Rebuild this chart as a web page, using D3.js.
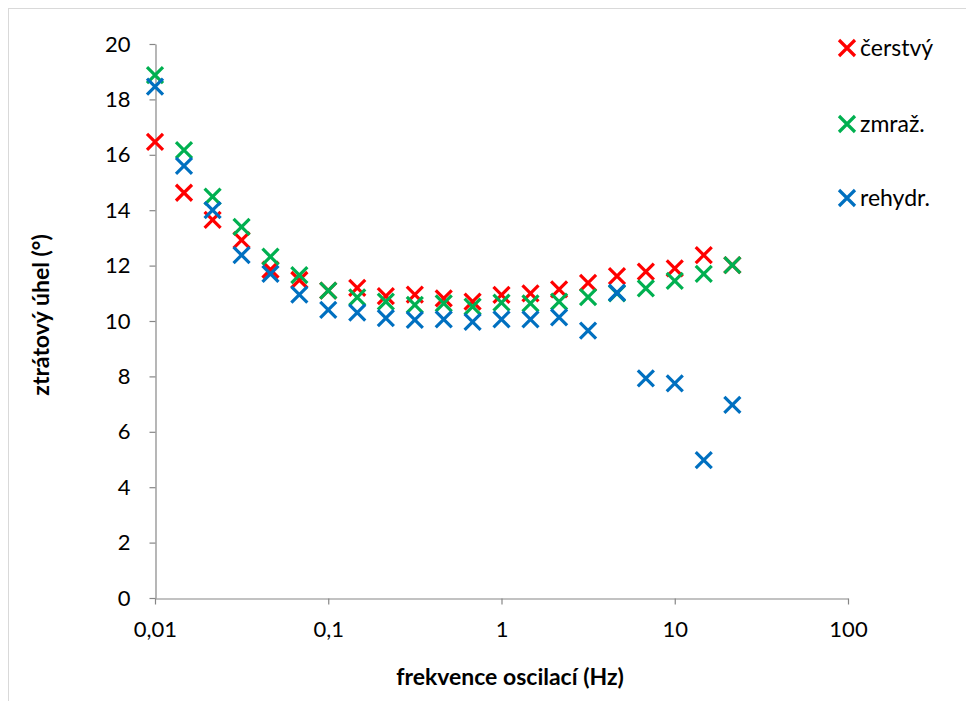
<!DOCTYPE html>
<html><head><meta charset="utf-8">
<script src="https://cdn.jsdelivr.net/npm/d3@7"></script>
<style>body{margin:0;background:#fff;} svg{display:block;font-family:Lato,"Open Sans",sans-serif;}</style>
</head><body>
<script>
const freq = [0.01,0.0147,0.0215,0.0316,0.0464,0.0681,0.1,0.147,0.215,0.316,0.464,0.681,1,1.47,2.15,3.16,4.64,6.81,10,14.7,21.5];
const cerstvy = [16.47,14.63,13.65,12.92,11.85,11.48,11.1,11.2,10.9,10.95,10.82,10.7,10.94,11.0,11.14,11.38,11.62,11.78,11.9,12.38,12.02];
const zmraz = [18.88,16.17,14.49,13.4,12.32,11.66,11.1,10.85,10.7,10.58,10.64,10.52,10.66,10.64,10.7,10.86,11.0,11.18,11.45,11.7,12.02];
const rehydr = [18.46,15.6,14.0,12.38,11.7,10.95,10.4,10.3,10.1,10.04,10.06,9.97,10.06,10.06,10.13,9.65,11.02,7.93,7.75,4.98,6.97];
const seriesNames = ["čerstvý","zmraž.","rehydr."];
const seriesColors = ["#FF0000","#00B050","#0070C0"];
const xTicks = [0.01,0.1,1,10,100];
const xTickLabels = ["0,01","0,1","1","10","100"];
const yTicks = [0,2,4,6,8,10,12,14,16,18,20];
const xTitle = "frekvence oscilací (Hz)";
const yTitle = "ztrátový úhel (°)";

const W = 966, H = 701;
const svg = d3.select("body").append("svg").attr("width", W).attr("height", H);
svg.append("rect").attr("x",8.5).attr("y",8.5).attr("width",W+20).attr("height",H+20)
  .attr("fill","none").attr("stroke","#d9d9d9");

const x = d3.scaleLog().domain([0.01,100]).range([155,848]);
const y = d3.scaleLinear().domain([0,20]).range([598,44]);
const axisColor = "#868686";

const gy = svg.append("g").attr("transform","translate(155.5,0)")
  .call(d3.axisLeft(y).tickValues(yTicks).tickSize(6).tickSizeOuter(0).tickPadding(19).tickFormat(d3.format("d")));
const gx = svg.append("g").attr("transform","translate(0,598.5)")
  .call(d3.axisBottom(x).tickValues(xTicks).tickSize(6).tickSizeOuter(0).tickPadding(17).tickFormat((d,i)=>xTickLabels[i]));
[gx,gy].forEach(g=>{
  g.select(".domain").attr("stroke",axisColor).attr("stroke-width",1.2);
  g.selectAll(".tick line").attr("stroke",axisColor).attr("stroke-width",1.2);
  g.selectAll(".tick text").attr("fill","#000").style("font-size","22px").style("font-family","Lato,sans-serif");
});

svg.append("text").attr("x",510).attr("y",685).attr("text-anchor","middle")
  .style("font-size","23px").style("font-weight","bold").text(xTitle);
svg.append("text").attr("transform","translate(49,315) rotate(-90)").attr("text-anchor","middle")
  .style("font-size","23px").style("font-weight","bold").text(yTitle);

function cross(g, cx, cy, color){
  const s = 8;
  g.append("path").attr("d",`M${cx-s},${cy-s}L${cx+s},${cy+s}M${cx-s},${cy+s}L${cx+s},${cy-s}`)
   .attr("stroke",color).attr("stroke-width",3.2).attr("fill","none");
}
const allSeries = [cerstvy, zmraz, rehydr];
allSeries.forEach((vals, si) => {
  const g = svg.append("g");
  vals.forEach((v,i)=> cross(g, x(freq[i]), y(v), seriesColors[si]));
});

const legY = [48,124,198];
seriesNames.forEach((n,i)=>{
  const g = svg.append("g");
  cross(g, 847, legY[i], seriesColors[i]);
  g.append("text").attr("x",860).attr("y",legY[i]+8).style("font-size","23px").text(n);
});
</script>
</body></html>
